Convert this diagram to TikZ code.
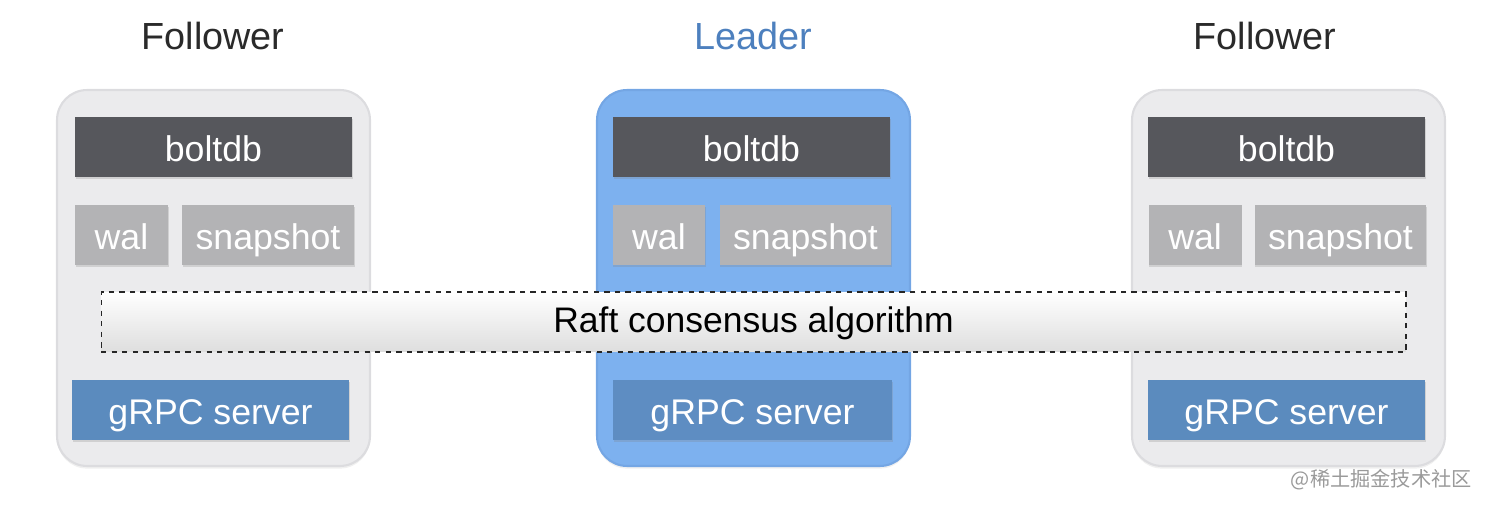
\documentclass[tikz,border=0pt]{standalone}
\usepackage{fontspec}
\usetikzlibrary{shadows}
\setmainfont{Liberation Sans}
\newfontfamily\cjkfont{Noto Sans CJK SC}
\definecolor{contgray}{HTML}{EBEBED}
\definecolor{contedge}{HTML}{DCDCDF}
\definecolor{leaderblue}{HTML}{7DB1EF}
\definecolor{leaderedge}{HTML}{74A6E4}
\definecolor{boltgray}{HTML}{56575C}
\definecolor{walgray}{HTML}{B3B3B5}
\definecolor{grpcblue}{HTML}{5B8BBE}
\definecolor{grpcblueL}{HTML}{5E8DC2}
\definecolor{titleblue}{HTML}{4D80BE}
\definecolor{titlegray}{HTML}{2A2A2A}
\definecolor{wmgray}{HTML}{9A9A9A}
\begin{document}
\begin{tikzpicture}[x=0.02cm,y=-0.02cm,
  font=\fontsize{20.3}{22}\selectfont,
  container/.style={rounded corners=0.6cm, minimum width=6.26cm, minimum height=7.52cm, inner sep=0pt, line width=1.2pt, drop shadow={shadow xshift=0pt, shadow yshift=-1.5pt, opacity=0.12}},
  follower/.style={container, fill=contgray, draw=contedge},
  leader/.style={container, fill=leaderblue, draw=leaderedge},
  inbox/.style={inner sep=0pt, minimum height=1.2cm, text height=17pt, text depth=0pt, text=white, drop shadow={shadow xshift=0.4pt, shadow yshift=-1.2pt, opacity=0.25}},
  boltbox/.style={inbox, fill=boltgray, minimum width=5.54cm},
  walbox/.style={inbox, fill=walgray, minimum width=1.86cm},
  snapbox/.style={inbox, fill=walgray, minimum width=3.44cm},
  grpcbox/.style={inbox, fill=grpcblue, minimum width=5.54cm},
  grpcboxL/.style={inbox, fill=grpcblueL, minimum width=5.58cm},
  raftbox/.style={inner sep=0pt, minimum width=26.1cm, minimum height=1.2cm, text height=12pt, text depth=0pt, font=\fontsize{20.2}{22}\selectfont, draw=black!85, dashed, line width=0.7pt, top color=white, bottom color=black!13, text=black},
  title/.style={font=\fontsize{21.5}{24}\selectfont, text=titlegray, anchor=base, inner sep=0pt},
]
\useasboundingbox (0,0) rectangle (1488,506);
% containers
\node[follower] (c1) at (213.5,278) {};
\node[leader] (c2) at (753.5,278) {};
\node[follower] (c3) at (1288.5,278) {};
% titles
\node[title] (t1) at (213,50) {Follower};
\node[title, text=titleblue] (t2) at (753,50) {Leader};
\node[title] (t3) at (1265,50) {Follower};
% boltdb
\node[boltbox] (b1) at (213.5,147) {boltdb};
\node[boltbox] (b2) at (751.5,147) {boltdb};
\node[boltbox] (b3) at (1286.5,147) {boltdb};
% wal / snapshot
\node[walbox] (w1) at (121.5,235) {wal};
\node[snapbox] (s1) at (268,235) {snapshot};
\node[walbox] (w2) at (659,235) {wal};
\node[snapbox] (s2) at (805.5,235) {snapshot};
\node[walbox] (w3) at (1195,235) {wal};
\node[snapbox] (s3) at (1340.5,235) {snapshot};
% raft
\node[raftbox] (raft) at (753.5,322) {Raft consensus algorithm};
% grpc
\node[grpcbox] (g1) at (210.5,410) {gRPC server};
\node[grpcboxL] (g2) at (752.5,410) {gRPC server};
\node[grpcbox] (g3) at (1286.5,410) {gRPC server};
% watermark
\node[font=\cjkfont\fontsize{11.5}{13}\selectfont, text=wmgray, anchor=east, inner sep=0pt] (wm) at (1472,480) {@稀土掘金技术社区};
\end{tikzpicture}
\end{document}
